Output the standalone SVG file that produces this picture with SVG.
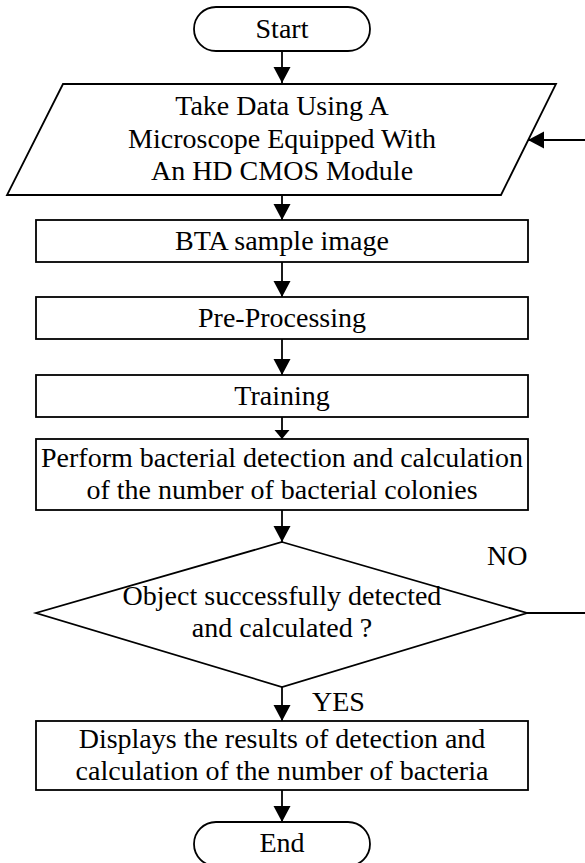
<svg xmlns="http://www.w3.org/2000/svg" width="585" height="863" viewBox="0 0 585 863">
  <style>
    .shape { fill: #ffffff; stroke: #000000; stroke-width: 1.8; }
    .wire { fill: none; stroke: #000000; stroke-width: 1.8; }
    .label { font-family: "Liberation Serif", "Times New Roman", serif; font-size: 28px; fill: #000000; text-anchor: middle; }
    .tag { font-family: "Liberation Serif", "Times New Roman", serif; font-size: 28px; fill: #000000; text-anchor: start; }
  </style>
  <defs>
    <marker id="head" markerUnits="userSpaceOnUse" markerWidth="18" markerHeight="18" refX="16" refY="9" orient="auto">
      <path d="M0,0.5 L16,9 L0,17.5 Z" fill="#000000"/>
    </marker>
    <marker id="headSmall" markerUnits="userSpaceOnUse" markerWidth="10" markerHeight="16" refX="9" refY="8" orient="auto">
      <path d="M0,0.5 L9,8 L0,15.5 Z" fill="#000000"/>
    </marker>
  </defs>

  <rect width="585" height="863" fill="#ffffff"/>

  <!-- connectors -->
  <g id="connectors">
    <line class="wire" x1="282" y1="51" x2="282" y2="83" marker-end="url(#head)"/>
    <line class="wire" x1="282" y1="194" x2="282" y2="220" marker-end="url(#head)"/>
    <line class="wire" x1="282" y1="262" x2="282" y2="297" marker-end="url(#head)"/>
    <line class="wire" x1="282" y1="339" x2="282" y2="375" marker-end="url(#head)"/>
    <line class="wire" x1="282" y1="417" x2="282" y2="439" marker-end="url(#headSmall)"/>
    <line class="wire" x1="282" y1="510" x2="282" y2="542" marker-end="url(#head)"/>
    <line class="wire" x1="282" y1="687" x2="282" y2="721" marker-end="url(#head)"/>
    <line class="wire" x1="282" y1="790" x2="282" y2="822" marker-end="url(#head)"/>
    <!-- NO branch loops back to the data acquisition step -->
    <line class="wire" x1="527" y1="613" x2="586" y2="613"/>
    <line class="wire" x1="586" y1="140" x2="528" y2="140" marker-end="url(#head)"/>
    <text class="tag" x="487" y="565">NO</text>
    <text class="tag" x="312" y="711">YES</text>
  </g>

  <g id="start">
    <rect class="shape" x="194" y="7" width="176" height="44" rx="22" ry="22"/>
    <text class="label" x="282" y="38">Start</text>
  </g>

  <g id="take-data">
    <polygon class="shape" points="63,84 556,84 501,195 7,195"/>
    <text class="label" x="282" y="115">Take Data Using A</text>
    <text class="label" x="282" y="147.5">Microscope Equipped With</text>
    <text class="label" x="282" y="180">An HD CMOS Module</text>
  </g>

  <g id="bta-image">
    <rect class="shape" x="36" y="220" width="492" height="42"/>
    <text class="label" x="282" y="250">BTA sample image</text>
  </g>

  <g id="pre-processing">
    <rect class="shape" x="36" y="297" width="492" height="42"/>
    <text class="label" x="282" y="327">Pre-Processing</text>
  </g>

  <g id="training">
    <rect class="shape" x="36" y="375" width="492" height="42"/>
    <text class="label" x="282" y="405">Training</text>
  </g>

  <g id="detection">
    <rect class="shape" x="36" y="439" width="492" height="71"/>
    <text class="label" x="282" y="467">Perform bacterial detection and calculation</text>
    <text class="label" x="282" y="499">of the number of bacterial colonies</text>
  </g>

  <g id="decision">
    <polygon class="shape" points="282,542 527,613 282,687 36,613"/>
    <text class="label" x="282" y="605">Object successfully detected</text>
    <text class="label" x="282" y="637">and calculated ?</text>
  </g>

  <g id="display-results">
    <rect class="shape" x="36" y="721" width="492" height="69"/>
    <text class="label" x="282" y="748">Displays the results of detection and</text>
    <text class="label" x="282" y="780">calculation of the number of bacteria</text>
  </g>

  <g id="end">
    <rect class="shape" x="194" y="822" width="176" height="44" rx="22" ry="22"/>
    <text class="label" x="282" y="852">End</text>
  </g>
</svg>
